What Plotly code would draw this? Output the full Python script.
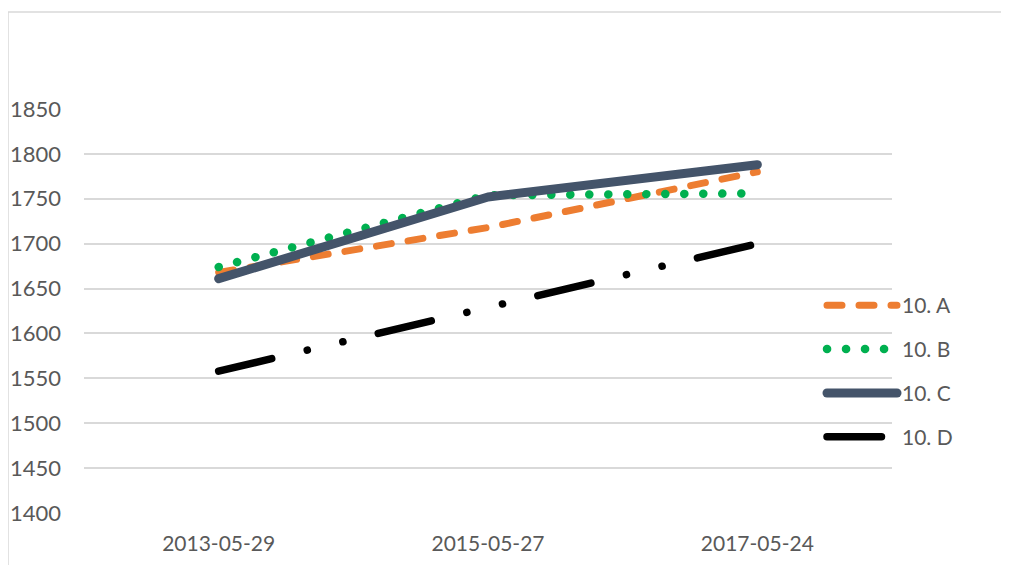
import plotly.graph_objects as go

dates = ["2013-05-29", "2015-05-27", "2017-05-24"]
series_names = ["10. A", "10. B", "10. C", "10. D"]
a_vals = [1668, 1718, 1780]
b_vals = [1674, 1754, 1756]
c_vals = [1661, 1752, 1788]
d_vals = [1558, 1630, 1700]
y_ticks = [1400, 1450, 1500, 1550, 1600, 1650, 1700, 1750, 1800, 1850]

# dash patterns tuned for round line caps
styles = [
    dict(color="#ED7D31", width=7, dash="15px,17px"),
    dict(color="#00B050", width=8.5, dash="0.1px,18.9px"),
    dict(color="#44546A", width=9, dash="solid"),
    dict(color="#000000", width=7.5, dash="54.5px,36.5px,0.1px,36.5px,0.1px,36.3px"),
]

fig = go.Figure()
for i, (name, vals) in enumerate(zip(series_names, [a_vals, b_vals, c_vals, d_vals])):
    fig.add_trace(go.Scatter(
        x=dates, y=vals, name=name, mode="lines",
        line=styles[i], legendgroup=name,
    ))

OFF = 8  # page body margin
FW, FH = 1009 - OFF, 565 - OFF
W0, W1, T, B = 84 - OFF, 892 - OFF, 109 - OFF, 513 - OFF


def px_x(p):
    return (p - OFF - W0) / (W1 - W0)


def px_y(p):
    return (B - (p - OFF)) / (B - T)


fig.update_layout(
    width=FW, height=FH,
    margin=dict(l=W0, r=FW - W1, t=T, b=FH - B, pad=0),
    paper_bgcolor="white", plot_bgcolor="white",
    font=dict(family="Lato, Open Sans, sans-serif", size=21, color="#595959"),
    showlegend=True,
    legend=dict(
        x=px_x(822), y=px_y(285), xanchor="left", yanchor="top",
        itemwidth=70, tracegroupgap=13.6,
        font=dict(size=21, color="#595959"),
        bgcolor="rgba(0,0,0,0)",
    ),
    xaxis=dict(
        type="category", range=[-0.5, 2.5], automargin=False,
        showgrid=False, zeroline=False, showline=False, ticks="",
        tickfont=dict(size=21, color="#595959"), ticklabelstandoff=16,
    ),
    yaxis=dict(
        range=[1400, 1850], tickvals=y_ticks, automargin=False,
        showgrid=True, gridcolor="#D9D9D9", gridwidth=1.5,
        zeroline=False, showline=False, ticks="",
        tickfont=dict(size=22, color="#595959"), ticklabelstandoff=22,
    ),
    shapes=[
        dict(type="line", xref="paper", yref="paper",
             x0=px_x(8), x1=px_x(1006), y0=px_y(12), y1=px_y(12),
             line=dict(color="#D9D9D9", width=1.5)),
        dict(type="line", xref="paper", yref="paper",
             x0=px_x(8), x1=px_x(8), y0=px_y(12), y1=px_y(570),
             line=dict(color="#D9D9D9", width=1.5)),
    ],
)

round_caps = (
    "document.querySelectorAll('.scatterlayer path.js-line, .legend path.js-line')"
    ".forEach(function(p){p.style.strokeLinecap='round';p.style.strokeLinejoin='round';});"
)

fig.write_html("out.html", post_script=round_caps)
